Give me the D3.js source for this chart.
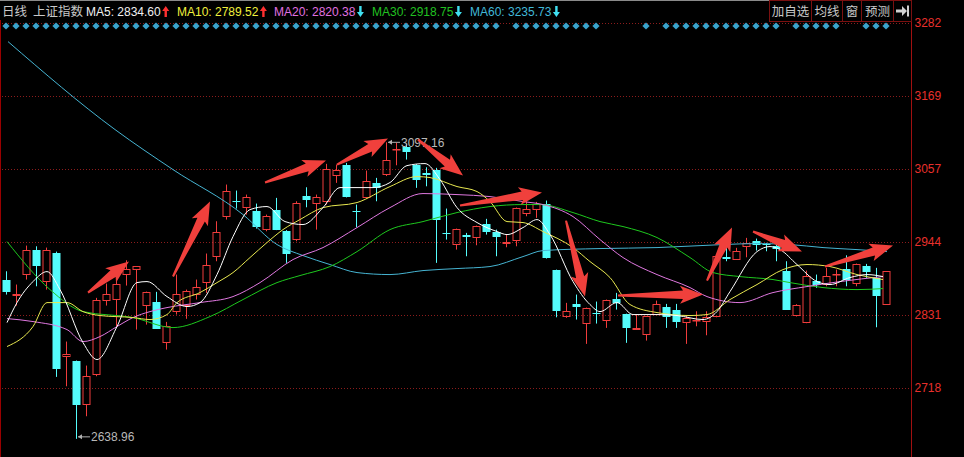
<!DOCTYPE html>
<html><head><meta charset="utf-8">
<script src="https://cdn.jsdelivr.net/npm/d3@7/dist/d3.min.js"></script>
<style>html,body{margin:0;padding:0;background:#000;overflow:hidden}</style>
</head><body>
<svg id="c" width="964" height="457"></svg>
<script>
// ---------------- data ----------------
const open = [2885.1,2860.4,2892.8,2930.4,2882,2926.3,2765,2758.8,2691.9,2738.3,
2851.6,2853.1,2891.7,2900.5,2843.8,2850.6,2787.3,2834.6,2844.9,2861.9,
2880,2920.2,2982,3007.2,2995.9,2990.6,2962.3,2992.2,2960.8,2946.9,
3013.8,3002.1,3005.1,3044.7,3062.8,2991.7,3011.3,3034.5,3046.2,3086,
3089.5,3062.8,3050,3055.1,2957.2,2938.1,2954.6,2949.5,2971.1,2958.8,
2940.7,2944.3,2986.6,2993.2,3002.1,2900.5,2826.8,2847.5,2816.6,2833.6,
2820.6,2855.7,2832.5,2807.8,2799,2831,2842.9,2838.7,2818.2,2821.7,
2819.7,2827.4,2920.2,2916,2935.6,2945.3,2940.2,2936.5,2899,2828.4,
2818.2,2882.5,2877.4,2891.7,2902.1,2878.4,2905.6,2887.7,2846.5];
const high = [2897.9,2877.4,2937.6,2936.5,2934.5,2928.3,2789.3,2760,2752.2,2856.8,
2878.9,2885.1,2914.9,2905.6,2866.5,2866.1,2819.7,2892.8,2869.6,2885.1,
2925.3,2975.2,3031.9,3022.6,3016.4,3002.5,2985.5,3011.3,2961.5,3006.1,
3027.7,3016.4,3063.9,3062.8,3065.4,3001,3053.5,3042.2,3097.16,3096.3,
3094.8,3063.5,3058.6,3057.7,2994.8,2963.9,2957.2,2968.5,2978.9,2962.3,
2954.6,2996.4,3006.1,3005.1,3007.2,2900.5,2849.1,2861.9,2841.8,2851.1,
2854.2,2864.5,2832.5,2831,2828.7,2852.6,2847.5,2847.5,2829.9,2836.1,
2836.1,2921.5,2935.6,2934.1,2949.5,2948.4,2941.8,2940.2,2913.4,2847,
2899,2892.8,2903.2,2900.5,2922.6,2909.8,2909.3,2903.2,2898.2];
const low = [2861.9,2844.9,2885.1,2874.7,2869.6,2734.7,2720.2,2638.96,2673.9,2735.7,
2844.9,2812.9,2875.8,2807.8,2815.5,2809,2776.9,2831,2824.4,2854.2,
2864.5,2913.4,2977.8,2994.8,2985.5,2963.9,2959.7,2961.5,2910.9,2944.3,
2996.8,2962.3,3001,3034.5,3012,2965.9,3010.2,3006.1,3045,3061.7,
3070.5,3026.8,3029.2,2910.9,2946.9,2931.4,2921.1,2938.1,2954.6,2921.1,
2935,2936.5,2982.9,2980.4,2917.5,2826.8,2825.9,2823.3,2785.7,2817.1,
2810.4,2838.7,2787.3,2807.8,2790.8,2831,2810.4,2810.4,2785.7,2812.9,
2799,2826.8,2913.4,2915.5,2919.5,2929.9,2928.8,2913.4,2838.5,2828,
2817.7,2872.3,2874.7,2874.7,2874.7,2874.7,2887.7,2811.4,2846];
const close = [2866.1,2863.4,2930.4,2906.7,2931.4,2747.1,2770.3,2691.9,2735.7,2854.2,
2863,2878.9,2901.6,2905.6,2866.1,2809.4,2812.9,2863,2868.1,2873.8,
2908.3,2958.8,3022.6,3004.5,3012.9,2965.9,2984,2962.3,2924.8,3003.6,
3008.7,3012.3,3056.6,3055.1,3012.3,2989.7,3037,3026.8,3070.5,3087.5,
3082.4,3039.6,3047.3,2977.8,2955.7,2963.9,2951.1,2967.4,2958.8,2950.4,
2943.3,2995.9,2994.3,3002.1,2918.6,2836.1,2836.1,2842.3,2841.4,2832.5,
2854.2,2849.1,2810.4,2810.4,2828.4,2847.5,2826.8,2819.7,2825.9,2823.3,
2826.8,2921.1,2917.5,2928.8,2941.8,2938.1,2938.1,2933,2838.7,2846.5,
2891.3,2877.4,2890.2,2893.9,2885.1,2909.3,2897,2859.3,2897.9];

// moving-average lines: [bar index, value]
const ma5 = [[0.1,2818.6],[1.1,2849.5],[2.7,2882],[4.1,2897.4],[5.4,2869.6],[7.7,2787.7],[9.1,2761.5],[11.1,2812.5],[13.1,2880.4],[14.1,2882],[16.1,2858.8],[18.1,2843.4],[19.4,2849.5],[21.1,2892.8],[22.7,2951.5],[24.4,2993.2],[26.1,2997.9],[27.9,2974.7],[29.7,2970.1],[31.7,2996.3],[33.4,3027.2],[36.7,3027.2],[38.4,3035],[40.1,3061.2],[41.9,3064.3],[43.4,3039.6],[45.1,2996.3],[47.1,2973.2],[49.1,2959.3],[50.1,2954.6],[51.7,2965.4],[53.1,2977.8],[54.4,2954.6],[56.7,2882],[58.4,2846.5],[59.4,2835.6],[61.1,2849.5],[62.7,2831],[65.1,2831],[67.1,2829.5],[69.7,2823.3],[71.1,2835.6],[72.4,2866.5],[75.1,2928.3],[76.4,2936.1],[77.4,2931.4],[79.1,2908.3],[81.1,2882],[82.4,2877.4],[84.4,2888.2],[86.1,2892.8],[87.7,2889.7]];
const ma10 = [[0.1,2781.6],[2.7,2812.5],[4.1,2849.5],[6.1,2849.5],[7.7,2835.6],[9.4,2829.5],[12.7,2826.4],[14.4,2823.3],[16.1,2831],[17.1,2849.5],[19.4,2865],[21.1,2880.4],[22.7,2895.9],[24.4,2919.1],[26.1,2942.3],[27.7,2962.3],[29.4,2977.8],[31.7,2996.3],[35.1,3004.1],[38.4,3028.8],[41.1,3044.2],[42.4,3042.7],[45.1,3028.8],[47.1,3021.1],[48.4,3005.6],[50.1,2974.7],[51.7,2973.2],[53.7,2959.3],[56.7,2934.5],[58.4,2912.9],[60.4,2888.2],[62.4,2846.5],[65.1,2834.1],[68.4,2829.5],[70.1,2831],[72.4,2854.2],[75.1,2877.4],[77.7,2900.5],[80.1,2908.3],[82.4,2905.2],[85.1,2892.8],[87.7,2885.1]];
const ma20 = [[0.1,2824.8],[2.7,2820.2],[6.1,2807.8],[7.7,2789.3],[9.4,2797],[11.1,2812.5],[12.7,2826.4],[14.4,2835.6],[16.1,2841.8],[19.4,2849.5],[22.7,2858.8],[25.4,2880.4],[28.7,2916],[31.7,2934.5],[35.1,2965.4],[38.4,2996.3],[41.7,3018],[45.1,3016.4],[48.4,3013.3],[51.7,3005.6],[53.7,3001],[56.7,2982.4],[59.4,2946.9],[61.7,2919.1],[65.1,2892.8],[68.4,2872.7],[70.1,2858.8],[73.4,2849.5],[76.7,2865],[80.1,2874.3],[83.4,2882],[87.7,2889.7]];
const ma30 = [[0.1,2943.8],[4.4,2869.6],[7.7,2835.6],[12.7,2826.4],[16.7,2810.9],[20.4,2827.9],[23.7,2854.2],[27.1,2880.4],[29.4,2891.3],[32.4,2905.2],[35.1,2928.3],[38.4,2962.3],[41.7,2974.7],[45.1,2988.6],[48.4,2997.9],[51.7,3001],[53.4,3001],[56.7,2988.6],[59.4,2974.7],[61.7,2967],[65.1,2950],[68.4,2919.1],[70.7,2895.9],[73.4,2889.7],[76.7,2885.1],[78.4,2880.4],[81.7,2872.7],[85.1,2869.6],[87.7,2871.2]];
const ma60 = [[0.2,3252.8],[10.9,3116.9],[16.7,3055],[23.7,2985.5],[27.1,2939.2],[29.7,2922.2],[32.4,2908.3],[35.1,2895.9],[38.4,2892.8],[41.7,2899],[45.1,2902.1],[48.4,2905.2],[51.7,2920.6],[53.7,2929.9],[59.4,2933],[65.1,2934.5],[71.7,2939.2],[75.1,2940.7],[78.4,2939.2],[81.7,2934.5],[85.1,2931.4],[88.1,2928.3]];

const maNames = ["MA5","MA10","MA20","MA30","MA60"];
const maHeaderValues = ["2834.60","2789.52","2820.38","2918.75","3235.73"];
const maTrend = ["up","up","down","down","down"];

const tickValues = [2718, 2830.8, 2943.6, 3056.4, 3169.2, 3282];
const tickLabels = ["2718","2831","2944","3057","3169","3282"];

// red annotation arrows: [tailIndex, tailValue, tipIndex, tipValue]
const arrows = [[8.2,2865,12.3,2912.9],[16.7,2889.7,20.4,3005.6],[25.9,3035,32,3069],[33.1,3062.8,38.2,3103],
[41.2,3101.4,45.7,3045.8],[45.4,2999.4,53.6,3019.5],[56,2976.2,57.9,2858.8],[61.2,2860.4,69.7,2861.9],
[70.1,2883.5,72.6,2965.4],[74.7,2959.3,79.6,2928.3],[81.9,2905.2,88.7,2937.6]];

// signal diamonds (bar indices)
const diamondIdx = [].concat(d3.range(0,50), d3.range(51,60), [64], d3.range(66,78), d3.range(79,84), d3.range(86,89));

const buttons = ["加自选","均线","窗","预测"];

// ---------------- drawing ----------------
const svg = d3.select("#c");
const W = 964, H = 457, axisX = 911.5;
svg.append("rect").attr("width",W).attr("height",H).attr("fill","#000");

const x = d3.scaleLinear().domain([0, 88]).range([6, 886]);
const y = d3.scaleLinear().domain([2718, 3282]).range([387.7, 22.7]);

const font = "'Liberation Sans', Arial, 'Noto Sans CJK SC', sans-serif";

// top border line & left border
svg.append("line").attr("x1",0).attr("x2",868).attr("y1",0.5).attr("y2",0.5).attr("stroke","#8a8a8a");
svg.append("line").attr("x1",0.5).attr("x2",0.5).attr("y1",20).attr("y2",H).attr("stroke","#9a0000");

// grid
svg.append("g").selectAll("line").data(tickValues).join("line")
  .attr("x1",2).attr("x2",axisX).attr("y1",d=>Math.round(y(d))+0.5).attr("y2",d=>Math.round(y(d))+0.5)
  .attr("stroke","#8c1c1c").attr("stroke-dasharray","1,2");

// axis
const axis = d3.axisRight(y).tickValues(tickValues).tickSize(0).tickPadding(3).tickFormat((d,i)=>tickLabels[i]);
const ga = svg.append("g").attr("transform",`translate(${axisX},0)`).call(axis);
ga.select(".domain").remove();
ga.selectAll("text").attr("fill","#e8302c").style("font-family",font).style("font-size","12px");
svg.append("line").attr("x1",axisX).attr("x2",axisX).attr("y1",0).attr("y2",H).attr("stroke","#a01010");

// diamonds
svg.append("g").selectAll("path").data(diamondIdx).join("path")
  .attr("d", i => { const cx = x(i), cy = 26, r = 3.6; return `M${cx},${cy-r}L${cx+r},${cy}L${cx},${cy+r}L${cx-r},${cy}Z`; })
  .attr("fill","#3aa3cc");

// candles
const bars = d3.range(open.length).map(i => ({i, o:open[i], h:high[i], l:low[i], c:close[i]}));
const RED = "#f03c3c", CYAN = "#54fcfc";
const gc = svg.append("g");
bars.forEach(b => {
  const cx = Math.round(x(b.i)) + 0.5;
  const up = b.c >= b.o;
  const top = y(Math.max(b.o,b.c)), bot = y(Math.min(b.o,b.c));
  const col = up ? RED : CYAN;
  const t = Math.round(top), bb = Math.max(Math.round(bot), t+1);
  if (up) {
    gc.append("line").attr("x1",cx).attr("x2",cx).attr("y1",y(b.h)).attr("y2",t).attr("stroke",col);
    gc.append("line").attr("x1",cx).attr("x2",cx).attr("y1",bb).attr("y2",y(b.l)).attr("stroke",col);
    gc.append("rect").attr("x",cx-3.5).attr("y",t+0.5).attr("width",7).attr("height",Math.max(bb-t-1,0.5))
      .attr("fill","none").attr("stroke",col);
  } else {
    gc.append("line").attr("x1",cx).attr("x2",cx).attr("y1",y(b.h)).attr("y2",y(b.l)).attr("stroke",col);
    gc.append("rect").attr("x",cx-4).attr("y",t).attr("width",8).attr("height",Math.max(bb-t,1)).attr("fill",col);
  }
});

// moving averages
const line = d3.line().x(d=>x(d[0])).y(d=>y(d[1])).curve(d3.curveMonotoneX);
const maData = [ma60, ma30, ma20, ma10, ma5];
const maCols = ["#46b4d2","#1ec81e","#e078e0","#e8e850","#ffffff"];
svg.append("g").selectAll("path").data(maData).join("path")
  .attr("d", line).attr("fill","none").attr("stroke",(d,i)=>maCols[i]).attr("stroke-width",1);

// extreme labels
function extreme(idx, val, dy) {
  const px = x(idx) + 2, py = y(val) + dy;
  svg.append("line").attr("x1",px).attr("x2",px+12).attr("y1",py).attr("y2",py).attr("stroke","#b0b0b0");
  svg.append("path").attr("d",`M${px},${py}L${px+4},${py-2.5}L${px+4},${py+2.5}Z`).attr("fill","#b0b0b0");
  svg.append("text").attr("x",px+13).attr("y",py).attr("dy","0.35em").attr("fill","#b8b8b8")
    .style("font-family",font).style("font-size","12px").text(d3.format(".2f")(val));
}
const hiI = high.indexOf(d3.max(high)), loI = low.indexOf(d3.min(low));
extreme(hiI, high[hiI], 0);
extreme(loI, low[loI], -2);

// red arrows
function arrowPath(x0,y0,x1,y1){
  const dx=x1-x0, dy=y1-y0, L=Math.hypot(dx,dy), ux=dx/L, uy=dy/L, nx=-uy, ny=ux;
  const hl=Math.min(20, L*0.45), hw=9, sw0=1, sw1=4.2;
  const bx=x1-ux*hl, by=y1-uy*hl;
  const p=[[x0+nx*sw0,y0+ny*sw0],[bx+nx*sw1,by+ny*sw1],[bx+nx*hw-ux*3,by+ny*hw-uy*3],[x1,y1],
           [bx-nx*hw-ux*3,by-ny*hw-uy*3],[bx-nx*sw1,by-ny*sw1],[x0-nx*sw0,y0-ny*sw0]];
  return "M"+p.map(q=>q[0].toFixed(1)+","+q[1].toFixed(1)).join("L")+"Z";
}
svg.append("g").selectAll("path").data(arrows).join("path")
  .attr("d",a=>arrowPath(x(a[0]),y(a[1]),x(a[2]),y(a[3]))).attr("fill","#f0403c");

// header
const hdr = svg.append("g").style("font-family",font).style("font-size","12px");
hdr.append("text").attr("x",2).attr("y",16).attr("fill","#c8c8c8").style("font-size","12.5px").text("日线");
hdr.append("text").attr("x",33).attr("y",16).attr("fill","#c8c8c8").style("font-size","12.5px").text("上证指数");
const maTxtCols = ["#f0f0f0","#f0f03c","#e070e0","#20c020","#40b8d8"];
const maX = [86,177,274,372,470];
maNames.forEach((n,i)=>{
  const t = hdr.append("text").attr("x",maX[i]).attr("y",16).attr("fill",maTxtCols[i]).text(`${n}: ${maHeaderValues[i]}`);
  const w = t.node().getComputedTextLength();
  const ax = maX[i] + w + 5;
  const upA = maTrend[i]==="up";
  const col = upA ? "#ff3030" : "#40e0f0";
  const y0 = 6, y1 = 17;
  const p = upA
    ? `M${ax},${y0}L${ax+3.5},${y0+5}L${ax+1.2},${y0+5}L${ax+1.2},${y1}L${ax-1.2},${y1}L${ax-1.2},${y0+5}L${ax-3.5},${y0+5}Z`
    : `M${ax},${y1}L${ax+3.5},${y1-5}L${ax+1.2},${y1-5}L${ax+1.2},${y0}L${ax-1.2},${y0}L${ax-1.2},${y1-5}L${ax-3.5},${y1-5}Z`;
  hdr.append("path").attr("d",p).attr("fill",col);
});

// buttons
const bx = [769,811,842,861,893,911];
const gb = svg.append("g");
bx.slice(0,5).forEach((b,i)=>{
  gb.append("rect").attr("x",b+0.5).attr("y",0.5).attr("width",bx[i+1]-b).attr("height",21).attr("fill","#000").attr("stroke","#7a1010");
});
buttons.forEach((t,i)=>{
  gb.append("text").attr("x",(bx[i]+bx[i+1])/2+0.5).attr("y",16).attr("text-anchor","middle")
    .attr("fill","#c8c8c8").style("font-family","'Noto Sans CJK SC', sans-serif").style("font-size","12.5px").text(t);
});
gb.append("path").attr("d","M896,9.5L902,9.5L902,6L907,11L902,16L902,12.5L896,12.5Z").attr("fill","#d0d0d0");
gb.append("rect").attr("x",907).attr("y",5.5).attr("width",2).attr("height",11).attr("fill","#d0d0d0");
</script>
</body></html>
